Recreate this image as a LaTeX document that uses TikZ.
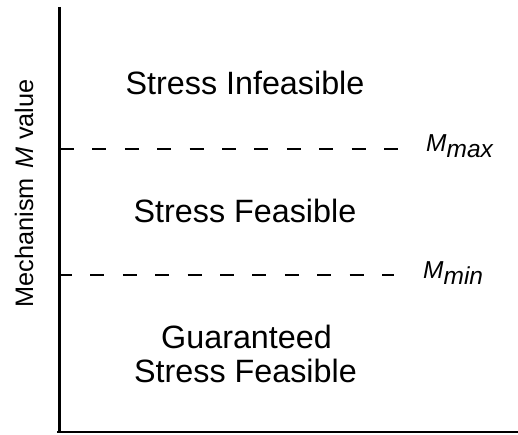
\documentclass[tikz,border=0pt]{standalone}
\usepackage{fontspec}
\setmainfont{Liberation Sans}
\begin{document}
\begin{tikzpicture}[x=1bp,y=-1bp,
  axisline/.style={line width=2.2bp, black},
  limitline/.style={line width=1.8bp, black, dash pattern=on 14bp off 18.4bp},
  region/.style={inner sep=0pt, anchor=base, font=\fontsize{32.3bp}{34bp}\selectfont},
  limitlabel/.style={inner sep=0pt, anchor=base west, font=\fontsize{24.5bp}{28bp}\selectfont\itshape},
  axislabel/.style={inner sep=0pt, anchor=base, rotate=90, font=\fontsize{25.3bp}{28bp}\selectfont}]
\useasboundingbox (0,0) rectangle (518,435);
% axes
\coordinate (top) at (59.5,7);
\coordinate (origin) at (59.5,432);
\coordinate (xleft) at (57,432);
\coordinate (xright) at (518,432);
\draw[axisline] (top) -- (origin);
\draw[axisline] (xleft) -- (xright);
% limit lines
\coordinate (maxL) at (60,149);
\coordinate (maxR) at (398,149);
\coordinate (minL) at (58,275);
\coordinate (minR) at (394,275);
\draw[limitline] (maxL) -- (maxR);
\draw[limitline] (minL) -- (minR);
% labels
\node[limitlabel] (mmax) at (426,152) {M\raisebox{-6bp}{max}};
\node[limitlabel] (mmin) at (423,278) {M\raisebox{-6bp}{min}};
\node[region] (infeas) at (245,95) {Stress Infeasible};
\node[region] (feas) at (245,223) {Stress Feasible};
\node[region] (guar1) at (246.5,348) {Guaranteed};
\node[region] (guar2) at (245.5,382) {Stress Feasible};
\node[axislabel] (ylab) at (33,193.5) {Mechanism\hspace{3bp} \textit{M} value};
\end{tikzpicture}
\end{document}
